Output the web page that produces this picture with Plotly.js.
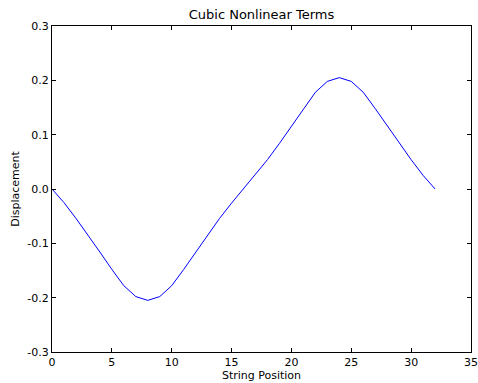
<!DOCTYPE html>
<html><head><meta charset="utf-8">
<script src="https://cdn.plot.ly/plotly-3.0.1.min.js"></script>
<style>html,body{margin:0;padding:0;background:#fff}#c{width:478px;height:383px}</style>
</head><body><div id="c"></div>
<script>
const positions = [0,1,2,3,4,5,6,7,8,9,10,11,12,13,14,15,16,17,18,19,20,21,22,23,24,25,26,27,28,29,30,31,32];
const displacement = [0.000,-0.025,-0.054,-0.084,-0.116,-0.148,-0.178,-0.198,-0.205,-0.198,-0.178,-0.148,-0.116,-0.084,-0.054,-0.026,0.000,0.026,0.054,0.084,0.116,0.148,0.178,0.198,0.205,0.198,0.178,0.148,0.116,0.084,0.054,0.025,0.000];
const xTicks = [0,5,10,15,20,25,30,35];
const yTicks = [-0.3,-0.2,-0.1,0.0,0.1,0.2,0.3];
const yTickLabels = ["-0.3","-0.2","-0.1","0.0","0.1","0.2","0.3"];

const font = {family: "DejaVu Sans", size: 11, color: "#000"};
const axisCommon = {
  showline: true, linecolor: "#000", linewidth: 1, mirror: "ticks",
  ticks: "inside", ticklen: 4, tickcolor: "#000", tickwidth: 1,
  showgrid: false, zeroline: false, tickfont: font
};
Plotly.newPlot("c", [{
  x: positions, y: displacement, type: "scatter", mode: "lines",
  line: {color: "#0000ff", width: 1}, hoverinfo: "skip"
}], {
  width: 478, height: 383,
  margin: {l: 51.5, r: 6.5, t: 25.5, b: 30.5},
  paper_bgcolor: "#fff", plot_bgcolor: "#fff",
  showlegend: false,
  title: {text: "Cubic Nonlinear Terms", font: {family: "DejaVu Sans", size: 13, color: "#000"},
          x: 0.5, xref: "paper", xanchor: "center", y: 1 - 14/383, yref: "container", yanchor: "middle"},
  xaxis: Object.assign({}, axisCommon, {range: [0, 35], tickvals: xTicks, ticktext: xTicks.map(String),
          title: {text: "String Position", font: font, standoff: 0}}),
  yaxis: Object.assign({}, axisCommon, {range: [-0.3, 0.3], tickvals: yTicks, ticktext: yTickLabels,
          title: {text: "Displacement", font: font, standoff: 5}})
}, {staticPlot: true});
</script></body></html>
